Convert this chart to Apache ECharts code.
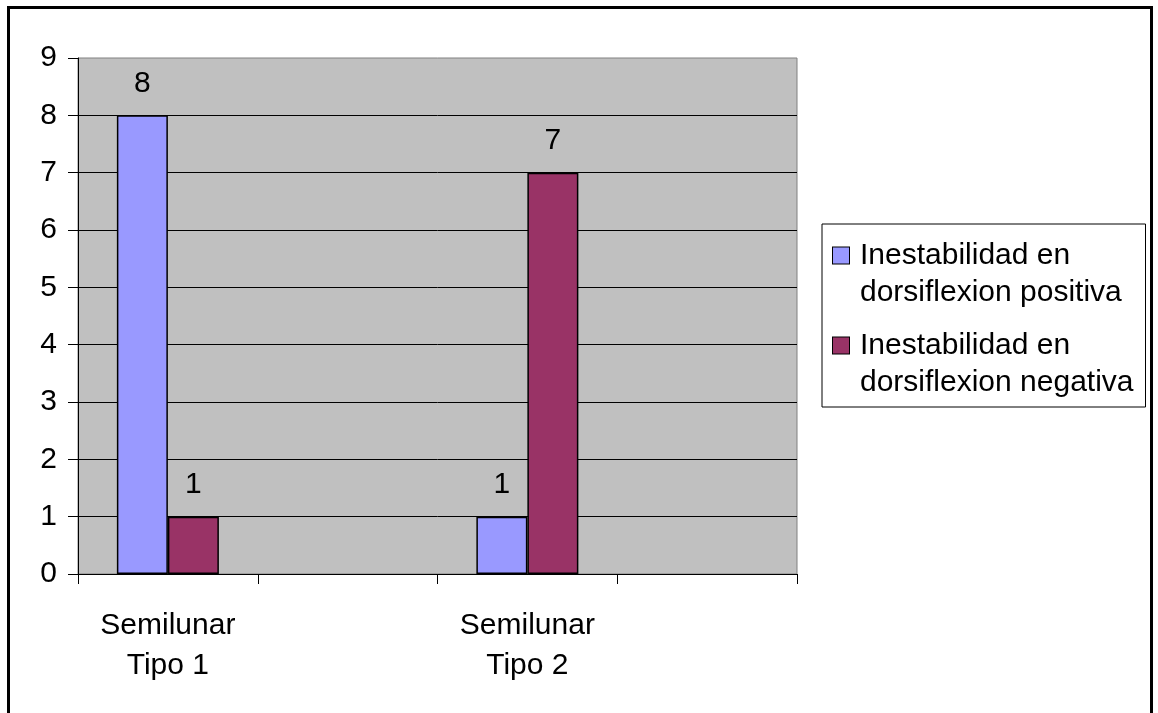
<!DOCTYPE html>
<html>
<head>
<meta charset="utf-8">
<script src="https://cdn.jsdelivr.net/npm/echarts@6/dist/echarts.min.js"></script>
<style>
  html, body { margin: 0; padding: 0; background: #ffffff; }
  #chart { width: 1158px; height: 713px; }
</style>
</head>
<body>
<div id="chart"></div>
<script>
// Categories along the x axis (empty slots keep the spacing between groups)
const categories = ['Semilunar\nTipo 1', '', 'Semilunar\nTipo 2', ''];
// Series names, shown in the legend
const seriesNames = ['Inestabilidad en dorsiflexion positiva', 'Inestabilidad en dorsiflexion negativa'];
// Counts per category
const positiva = [8, null, 1, null];
const negativa = [1, null, 7, null];
// Y axis range
const yTicks = [0, 1, 2, 3, 4, 5, 6, 7, 8, 9];

const FONT = "'Liberation Sans', Arial, sans-serif";
const colors = ['#9999FF', '#993366'];

const chart = echarts.init(document.getElementById('chart'), null, { renderer: 'canvas' });

const legendRich = {
  t: { fontFamily: FONT, fontSize: 30, color: '#000', lineHeight: 37, padding: [0, 0, 0, 11], verticalAlign: 'middle' },
  t2: { fontFamily: FONT, fontSize: 30, color: '#000', lineHeight: 37, padding: [0, 0, 0, 27], verticalAlign: 'middle' }
};
colors.forEach(function (c, i) {
  legendRich['sq' + i] = {
    width: 16, height: 16, lineHeight: 37, backgroundColor: c,
    borderColor: '#000', borderWidth: 1, verticalAlign: 'middle'
  };
});

const barSeries = [positiva, negativa].map(function (values, i) {
  return {
    name: seriesNames[i],
    type: 'bar',
    data: values,
    barWidth: 51,
    barGap: '0%',
    itemStyle: { color: colors[i], borderColor: '#000', borderWidth: 1.5 },
    label: {
      show: true,
      position: 'top',
      distance: 17,
      fontFamily: FONT,
      fontSize: 30,
      color: '#000'
    }
  };
});

chart.setOption({
  animation: false,
  backgroundColor: '#ffffff',
  textStyle: { fontFamily: FONT },
  graphic: [{
    type: 'rect',
    shape: { x: 8.5, y: 7.5, width: 1143, height: 730 },
    style: { fill: 'none', stroke: '#000', lineWidth: 3 },
    silent: true,
    z: 100
  }],
  grid: {
    left: 78, top: 58, right: 361, bottom: 139,
    show: true,
    backgroundColor: '#C0C0C0',
    borderColor: '#808080',
    borderWidth: 1
  },
  legend: {
    orient: 'vertical',
    left: 822, top: 224,
    padding: [13, 12, 6, 6],
    itemGap: 16,
    itemWidth: 0, itemHeight: 0,
    icon: 'none',
    backgroundColor: '#ffffff',
    borderColor: '#000',
    borderWidth: 1,
    data: seriesNames,
    formatter: function (name) {
      const i = seriesNames.indexOf(name);
      const words = name.split(' ');
      return '{sq' + i + '|}{t|' + words.slice(0, 2).join(' ') + '}\n{t2|' + words.slice(2).join(' ') + '}';
    },
    textStyle: { rich: legendRich, fontFamily: FONT, fontSize: 30, lineHeight: 37 }
  },
  xAxis: {
    type: 'category',
    data: categories,
    boundaryGap: true,
    axisLine: { show: true, lineStyle: { color: '#000', width: 1 } },
    axisTick: { show: true, alignWithLabel: false, interval: 0, length: 10, lineStyle: { color: '#000' } },
    axisLabel: {
      interval: 0, margin: 32, fontFamily: FONT, fontSize: 30, lineHeight: 40, color: '#000'
    },
    splitLine: { show: false }
  },
  yAxis: {
    type: 'value',
    min: yTicks[0],
    max: yTicks[yTicks.length - 1],
    interval: 1,
    axisLine: { show: true, lineStyle: { color: '#000', width: 1 } },
    axisTick: { show: true, length: 10, lineStyle: { color: '#000' } },
    axisLabel: { margin: 21, fontFamily: FONT, fontSize: 30, color: '#000' },
    splitLine: { show: true, showMinLine: false, showMaxLine: false, lineStyle: { color: '#000', width: 1 } }
  },
  series: barSeries
});
</script>
</body>
</html>
